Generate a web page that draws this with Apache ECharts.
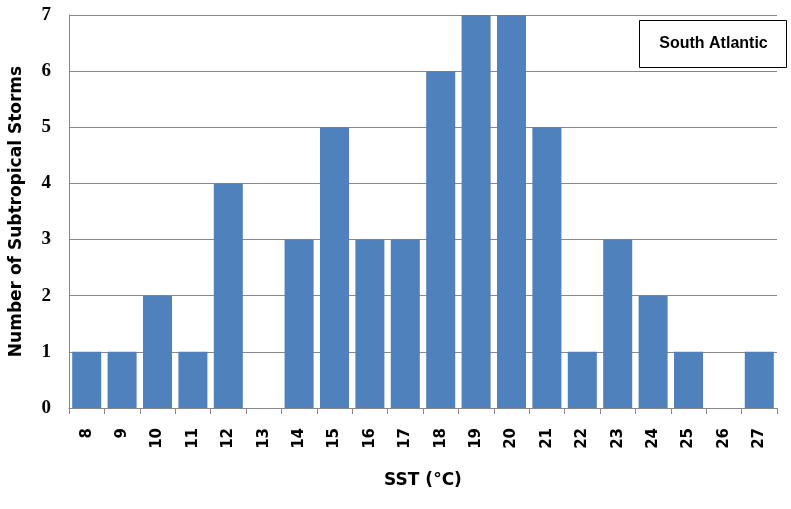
<!DOCTYPE html>
<html><head><meta charset="utf-8">
<script src="https://cdn.jsdelivr.net/npm/echarts@6/dist/echarts.min.js"></script>
<style>html,body{margin:0;padding:0;background:#fff}#c{width:791px;height:509px}</style>
</head><body><div id="c"></div>
<script>
const categories = ['8','9','10','11','12','13','14','15','16','17','18','19','20','21','22','23','24','25','26','27'];
const storms = [1,1,2,1,4,0,3,5,3,3,6,7,7,5,1,3,2,1,0,1];
const yTicks = [0,1,2,3,4,5,6,7];
const legendLabel = 'South Atlantic';

const chart = echarts.init(document.getElementById('c'));
chart.setOption({
  animation: false,
  backgroundColor: '#fff',
  grid: { left: 69, right: 14, top: 15, bottom: 101, containLabel: false, outerBoundsMode: 'none' },
  xAxis: {
    type: 'category', data: categories,
    name: 'SST (°C)', nameLocation: 'middle', nameGap: 64,
    nameTextStyle: { fontFamily: 'DejaVu Sans', fontWeight: 'bold', fontSize: 17, color: '#000' },
    axisLine: { lineStyle: { color: '#888' } },
    axisTick: { show: true, length: 6, lineStyle: { color: '#888' } },
    axisLabel: { rotate: 90, margin: 20, fontFamily: 'DejaVu Sans', fontWeight: 'bold', fontSize: 15, color: '#000' }
  },
  yAxis: {
    type: 'value', min: yTicks[0], max: yTicks[yTicks.length-1], interval: 1,
    name: 'Number of Subtropical Storms', nameLocation: 'middle', nameGap: 44,
    nameTextStyle: { fontFamily: 'DejaVu Sans', fontWeight: 'bold', fontSize: 17, color: '#000' },
    axisLine: { show: true, lineStyle: { color: '#888' } },
    axisTick: { show: false },
    axisLabel: { margin: 18, fontFamily: 'Liberation Serif', fontWeight: 'bold', fontSize: 19, color: '#000' },
    splitLine: { lineStyle: { color: '#888' } }
  },
  series: [{
    type: 'bar', data: storms, barCategoryGap: '18%',
    itemStyle: { color: '#4F81BD' }
  }],
  graphic: [{
    type: 'group', left: 639, top: 20,
    children: [
      { type: 'rect', shape: { x: 0, y: 0, width: 147, height: 47 }, style: { fill: '#fff', stroke: '#000', lineWidth: 1 } },
      { type: 'text', x: 74, y: 23, style: { text: legendLabel, font: 'bold 16px "Liberation Sans", Arial', fill: '#000', align: 'center', verticalAlign: 'middle' } }
    ]
  }]
});
</script></body></html>
